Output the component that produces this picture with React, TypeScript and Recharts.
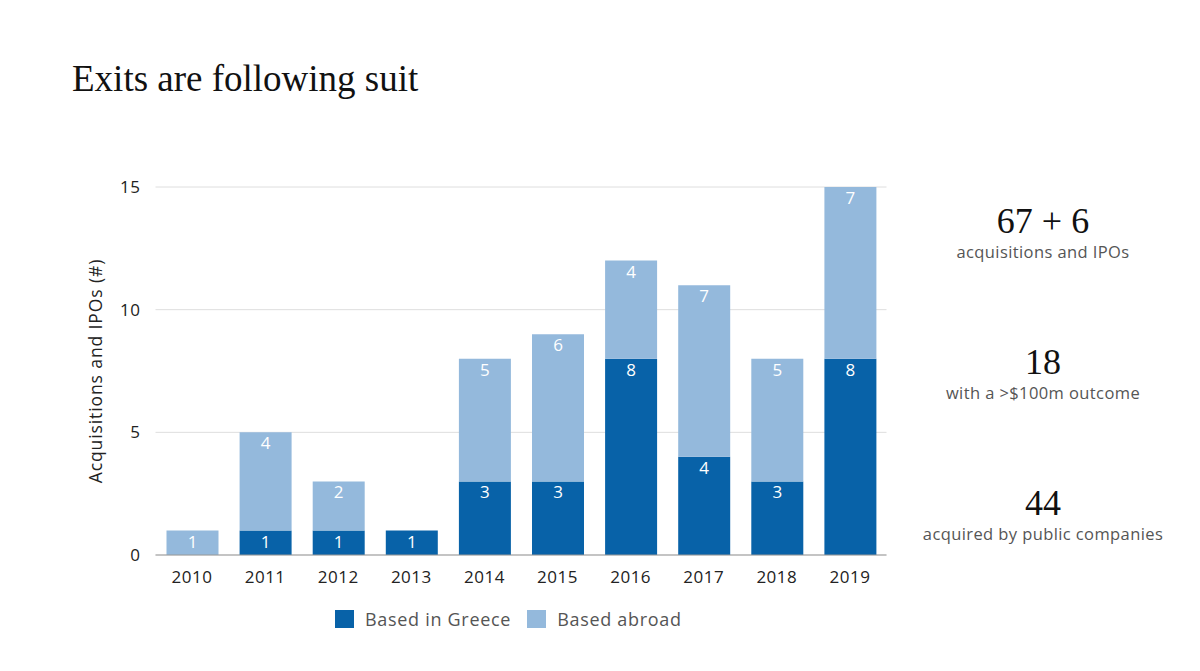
import { BarChart, Bar, XAxis, YAxis, CartesianGrid, Legend, LabelList } from "recharts";

const years = ["2010", "2011", "2012", "2013", "2014", "2015", "2016", "2017", "2018", "2019"];
const basedInGreece = [0, 1, 1, 1, 3, 3, 8, 4, 3, 8];
const basedAbroad = [1, 4, 2, 0, 5, 6, 4, 7, 5, 7];
const yTicks = [0, 5, 10, 15];

const stats = [
  { big: "67 + 6", small: "acquisitions and IPOs" },
  { big: "18", small: "with a >$100m outcome" },
  { big: "44", small: "acquired by public companies" },
];

const DARK = "#0862a8";
const LIGHT = "#94b9dc";
const SANS = "'Open Sans', 'Noto Sans', sans-serif";
const SERIF = "'Liberation Serif', 'DejaVu Serif', serif";

const data = years.map((year, i) => ({
  year,
  greece: basedInGreece[i],
  abroad: basedAbroad[i],
}));

const hideZero = (v: any) => (v ? v : "");

function LegendContent() {
  const items = [
    { label: "Based in Greece", color: DARK },
    { label: "Based abroad", color: LIGHT },
  ];
  return (
    <div style={{ display: "flex", alignItems: "center", paddingTop: 12, fontFamily: SANS }}>
      {items.map((it) => (
        <div key={it.label} style={{ display: "flex", alignItems: "center", marginRight: 16 }}>
          <span style={{ width: 19, height: 18, background: it.color, display: "inline-block", marginRight: 11 }} />
          <span style={{ fontSize: 18, color: "#555", letterSpacing: 0.7 }}>{it.label}</span>
        </div>
      ))}
    </div>
  );
}

export default function App() {
  return (
    <div style={{ position: "absolute", left: 0, top: 0, width: 1200, height: 671, background: "#fff", overflow: "hidden" }}>
      <div style={{ position: "absolute", left: 72, top: 57, fontFamily: SERIF, fontSize: 37, color: "#111" }}>
        Exits are following suit
      </div>

      <div style={{ position: "absolute", left: 0, top: 0 }}>
        <BarChart
          width={900}
          height={671}
          data={data}
          margin={{ top: 187, right: 13.5, bottom: 0, left: 95.5 }}
          barSize={52}
        >
          <CartesianGrid vertical={false} stroke="#dedede" />
          <XAxis
            dataKey="year"
            height={40}
            tickLine={false}
            axisLine={{ stroke: "#999" }}
            tick={{ fill: "#222", fontSize: 17, fontFamily: SANS, letterSpacing: 0.5 }}
            tickMargin={10}
          />
          <YAxis
            width={60}
            domain={[0, 15]}
            ticks={yTicks}
            axisLine={false}
            tickLine={false}
            tickSize={0}
            tickMargin={15}
            tick={{ fill: "#222", fontSize: 17, fontFamily: SANS, letterSpacing: 0.5 }}
            label={{
              value: "Acquisitions and IPOs (#)",
              angle: -90,
              position: "insideLeft",
              offset: 0,
              style: { textAnchor: "middle", fill: "#222", fontSize: 17.5, fontFamily: SANS, letterSpacing: 0.9 },
            }}
          />
          <Legend height={76} align="left" wrapperStyle={{ left: 335 }} content={<LegendContent />} />
          <Bar dataKey="greece" stackId="a" fill={DARK} name="Based in Greece" isAnimationActive={false}>
            <LabelList dataKey="greece" position="insideTop" fill="#fff" fontSize={17} fontFamily={SANS} formatter={hideZero} />
          </Bar>
          <Bar dataKey="abroad" stackId="a" fill={LIGHT} name="Based abroad" isAnimationActive={false}>
            <LabelList dataKey="abroad" position="insideTop" fill="#fff" fontSize={17} fontFamily={SANS} formatter={hideZero} />
          </Bar>
        </BarChart>
      </div>

      {stats.map((s, i) => (
        <div
          key={s.big}
          style={{
            position: "absolute",
            left: 893,
            width: 300,
            top: 200 + i * 141,
            textAlign: "center",
          }}
        >
          <div style={{ fontFamily: SERIF, fontSize: 36, color: "#111", lineHeight: "42px" }}>{s.big}</div>
          <div style={{ fontFamily: SANS, fontSize: 16.5, color: "#555", lineHeight: "20px", letterSpacing: 0.4 }}>{s.small}</div>
        </div>
      ))}
    </div>
  );
}
